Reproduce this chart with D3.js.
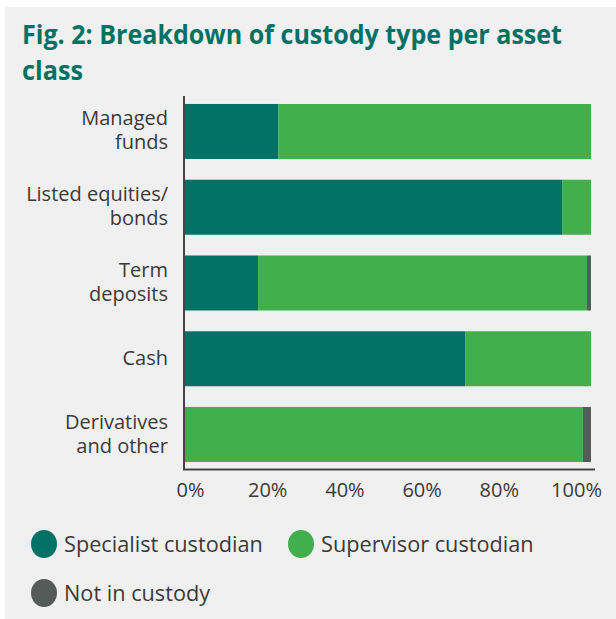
<!DOCTYPE html>
<html>
<head>
<meta charset="utf-8">
<script src="https://cdn.jsdelivr.net/npm/d3@7"></script>
<style>
  body { margin: 0; background: #fff; }
  svg text { font-family: "Open Sans", sans-serif; }
</style>
</head>
<body>
<div id="content"></div>
<script>
// data (percent of each asset class)
let categories = ["Managed funds", "Listed equities/ bonds", "Term deposits", "Cash", "Derivatives and other"];
let labelLines = [["Managed", "funds"], ["Listed equities/", "bonds"], ["Term", "deposits"], ["Cash"], ["Derivatives", "and other"]];
let specialist = [23, 93, 18, 69, 0];
let supervisor = [77, 7, 81, 31, 98];
let notInCustody = [0, 0, 1, 0, 2];
let seriesNames = ["Specialist custodian", "Supervisor custodian", "Not in custody"];
let tickValues = [0, 20, 40, 60, 80, 100];

let colors = ["#007265", "#41af4b", "#555b59"];

let width = 616, height = 619;

let svg = d3.select("#content")
    .append("svg")
    .attr("width", width)
    .attr("height", height);

// panel background
svg.append("rect")
    .attr("x", 5).attr("y", 7)
    .attr("width", width - 5).attr("height", height - 7)
    .attr("fill", "#f0f0f0");

// title
let title = svg.append("text")
    .attr("fill", "#007265")
    .style("font-weight", "bold")
    .style("font-size", "27px");
title.append("tspan").attr("x", 22).attr("y", 44)
    .attr("textLength", 540).attr("lengthAdjust", "spacingAndGlyphs")
    .text("Fig. 2: Breakdown of custody type per asset");
title.append("tspan").attr("x", 22).attr("y", 80)
    .attr("textLength", 61).attr("lengthAdjust", "spacingAndGlyphs")
    .text("class");

let table = categories.map((c, i) => ({
    category: c,
    "Specialist custodian": specialist[i],
    "Supervisor custodian": supervisor[i],
    "Not in custody": notInCustody[i]
}));

let stacked = d3.stack().keys(seriesNames)(table);

let x = d3.scaleLinear().domain([0, 100]).range([185, 591]);
// the tick labels sit a bit inside the bar ends in the original
let xLabel = d3.scaleLinear().domain([0, 100]).range([190, 576]);
let y = d3.scaleBand().domain(categories)
    .range([93.6, 472.4])
    .paddingInner(0.274)
    .paddingOuter(0.137);

svg.append("g")
    .selectAll("g")
    .data(stacked)
    .enter()
    .append("g")
    .attr("fill", (d, i) => colors[i])
    .selectAll("rect")
    .data(d => d)
    .enter()
    .append("rect")
    .attr("x", d => x(d[0]))
    .attr("y", d => y(d.data.category))
    .attr("width", d => x(d[1]) - x(d[0]))
    .attr("height", y.bandwidth());

// axis lines
svg.append("line")
    .attr("x1", 184).attr("x2", 184)
    .attr("y1", 96).attr("y2", 470)
    .attr("stroke", "#444").attr("stroke-width", 2);
svg.append("line")
    .attr("x1", 183).attr("x2", 595)
    .attr("y1", 469.5).attr("y2", 469.5)
    .attr("stroke", "#444").attr("stroke-width", 2);

// x tick labels
let xAxis = svg.append("g")
    .attr("transform", "translate(0,470)")
    .call(d3.axisBottom(xLabel).tickValues(tickValues).tickFormat(d => d + "%").tickSize(0).tickPadding(13));
xAxis.select(".domain").remove();
xAxis.selectAll("text")
    .style("font-family", "'Open Sans', sans-serif")
    .style("font-size", "20px")
    .attr("fill", "#3a3a3a");

// category labels
let catLabels = svg.append("g")
    .selectAll("text")
    .data(categories)
    .enter()
    .append("text")
    .attr("text-anchor", "end")
    .attr("fill", "#3a3a3a")
    .style("font-size", "20px");
catLabels.each(function (d, i) {
    let lines = labelLines[i];
    let cy = y(d) + y.bandwidth() / 2;
    let lh = 24;
    lines.forEach((t, j) => {
        d3.select(this).append("tspan")
            .attr("x", 168)
            .attr("y", cy + (j - (lines.length - 1) / 2) * lh + 6)
            .text(t);
    });
});

// legend
let legendPos = [[44, 544], [301, 544], [44, 593]];
let legend = svg.append("g")
    .selectAll("g")
    .data(seriesNames)
    .enter()
    .append("g")
    .attr("transform", (d, i) => "translate(" + legendPos[i][0] + "," + legendPos[i][1] + ")");
legend.append("ellipse")
    .attr("rx", 13).attr("ry", 14)
    .attr("fill", (d, i) => colors[i]);
legend.append("text")
    .attr("x", 20)
    .attr("y", 8)
    .attr("fill", "#3a3a3a")
    .style("font-size", "21.7px")
    .text(d => d);
</script>
</body>
</html>
